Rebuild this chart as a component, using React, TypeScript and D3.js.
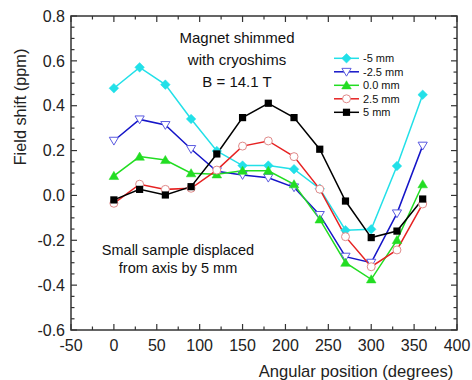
import React from "react";
import * as d3 from "d3";

const angles = [0, 30, 60, 90, 120, 150, 180, 210, 240, 270, 300, 330, 360];
const seriesNames = ["-5 mm", "-2.5 mm", "0.0 mm", "2.5 mm", "5 mm"];
const minus5 = [0.478, 0.571, 0.494, 0.341, 0.198, 0.133, 0.133, 0.117, 0.03, -0.155, -0.151, 0.131, 0.449];
const minus25 = [0.244, 0.339, 0.314, 0.207, 0.108, 0.091, 0.079, 0.036, -0.087, -0.273, -0.3, -0.08, 0.222];
const zero = [0.087, 0.173, 0.158, 0.099, 0.094, 0.11, 0.11, 0.05, -0.107, -0.3, -0.374, -0.199, 0.05];
const plus25 = [-0.035, 0.05, 0.027, 0.032, 0.113, 0.22, 0.243, 0.173, 0.028, -0.184, -0.318, -0.243, -0.038];
const plus5 = [-0.02, 0.027, 0.002, 0.039, 0.185, 0.347, 0.411, 0.347, 0.206, -0.025, -0.188, -0.159, -0.016];
const xTicks = [-50, 0, 50, 100, 150, 200, 250, 300, 350, 400];
const yTicks = [-0.6, -0.4, -0.2, 0.0, 0.2, 0.4, 0.6, 0.8];

const seriesValues = [minus5, minus25, zero, plus25, plus5];
const lineColors = ["#22e0e8", "#1515c8", "#22dd22", "#e62222", "#000000"];
const markerKinds = ["diamond", "triDown", "triUp", "circle", "square"];

const L = 71, R = 457, T = 16, B = 330;
const FONT = "Liberation Sans, Arial, sans-serif";

function Marker({ kind, x, y }: { kind: string; x: number; y: number }) {
  if (kind === "diamond") {
    const s = 4.8;
    return <path d={`M${x},${y - s}L${x + s},${y}L${x},${y + s}L${x - s},${y}Z`} fill="#22e0e8" stroke="#22e0e8" strokeWidth={0.5} />;
  }
  if (kind === "triDown") {
    const s = 4.6;
    return <path d={`M${x - s},${y - s * 0.75}L${x + s},${y - s * 0.75}L${x},${y + s * 0.95}Z`} fill="#fff" stroke="#5a5ae0" strokeWidth={1} />;
  }
  if (kind === "triUp") {
    const s = 4.8;
    return <path d={`M${x - s},${y + s * 0.75}L${x + s},${y + s * 0.75}L${x},${y - s * 0.95}Z`} fill="#22dd22" stroke="#22dd22" strokeWidth={0.5} />;
  }
  if (kind === "circle") {
    return <circle cx={x} cy={y} r={4} fill="#fff" stroke="#e08a8a" strokeWidth={1} />;
  }
  const s = 3.6;
  return <rect x={x - s} y={y - s} width={2 * s} height={2 * s} fill="#000" />;
}

export default function App() {
  const x = d3.scaleLinear().domain([-50, 400]).range([L, R]);
  const y = d3.scaleLinear().domain([-0.6, 0.8]).range([B, T]);
  const line = d3.line<number>().x((_, i) => x(angles[i])).y((v) => y(v));

  const xMinor = d3.range(-50, 401, 25);
  const yMinor = d3.range(-0.6, 0.8001, 0.05);

  const legendRows = seriesNames.map((n, i) => ({ n, i, yy: 58.3 + i * 13.5 }));

  return (
    <svg width={472} height={380} style={{ position: "absolute", left: 0, top: 0, background: "#fff" }} fontFamily={FONT}>
      <rect width={472} height={380} fill="#fff" />
      {xMinor.map((t) => {
        const major = Math.abs(t % 50) < 1e-6;
        const len = major ? 6 : 3.5;
        return (
          <g key={"xt" + t} stroke="#333" strokeWidth={1.2}>
            <line x1={x(t)} x2={x(t)} y1={B} y2={B - len} />
            <line x1={x(t)} x2={x(t)} y1={T} y2={T + len} />
          </g>
        );
      })}
      {yMinor.map((t, k) => {
        const major = k % 4 === 0;
        const len = major ? 6 : 3.5;
        return (
          <g key={"yt" + k} stroke="#333" strokeWidth={1.2}>
            <line x1={L} x2={L + len} y1={y(t)} y2={y(t)} />
            <line x1={R} x2={R - len} y1={y(t)} y2={y(t)} />
          </g>
        );
      })}
      <rect x={L} y={T} width={R - L} height={B - T} fill="none" stroke="#333" strokeWidth={1.5} />
      {xTicks.map((t) => (
        <text key={"xl" + t} x={x(t)} y={350.5} textAnchor="middle" fontSize={16} fill="#222">
          {t}
        </text>
      ))}
      {yTicks.map((t) => (
        <text key={"yl" + t} x={65} y={y(t) + 5.7} textAnchor="end" fontSize={16} fill="#222">
          {t.toFixed(1)}
        </text>
      ))}
      <text x={356} y={376.5} textAnchor="middle" fontSize={16.6} fill="#222">
        Angular position (degrees)
      </text>
      <text transform="translate(26,107) rotate(-90)" textAnchor="middle" fontSize={16.3} fill="#222">
        Field shift (ppm)
      </text>
      {seriesValues.map((vals, i) => (
        <path key={"l" + i} d={line(vals) || ""} fill="none" stroke={lineColors[i]} strokeWidth={1.5} />
      ))}
      {seriesValues.map((vals, i) =>
        vals.map((v, j) => <Marker key={`m${i}-${j}`} kind={markerKinds[i]} x={x(angles[j])} y={y(v)} />)
      )}
      <g fontSize={15} fill="#111" textAnchor="middle">
        <text x={237} y={43}>Magnet shimmed</text>
        <text x={237} y={65}>with cryoshims</text>
        <text x={237} y={87}>B = 14.1 T</text>
      </g>
      <g fontSize={14.5} fill="#111" textAnchor="middle">
        <text x={178} y={255}>Small sample displaced</text>
        <text x={178} y={272.7}>from axis by 5 mm</text>
      </g>
      {legendRows.map(({ n, i, yy }) => (
        <g key={"lg" + i}>
          <line x1={334} x2={359} y1={yy} y2={yy} stroke={lineColors[i]} strokeWidth={1.5} />
          <Marker kind={markerKinds[i]} x={346.5} y={yy} />
          <text x={363} y={yy + 4} fontSize={11} fill="#111">
            {n}
          </text>
        </g>
      ))}
    </svg>
  );
}
